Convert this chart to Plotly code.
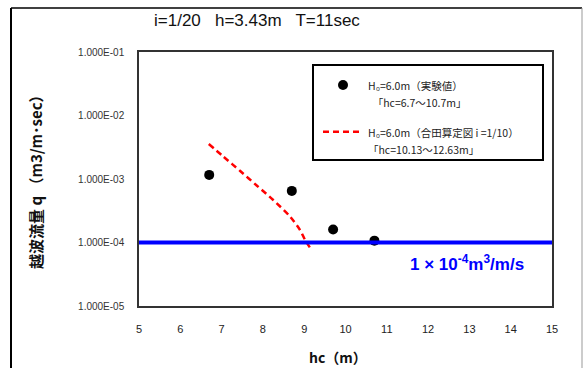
import plotly.graph_objects as go

# Data
exp_hc = [6.7, 8.7, 9.7, 10.7]
exp_q = [1.16e-3, 6.5e-4, 1.6e-4, 1.07e-4]

goda_hc = [6.69, 7.04, 7.45, 7.85, 8.25, 8.66, 8.90, 9.02, 9.18]
goda_q = [3.56e-3, 2.26e-3, 1.34e-3, 7.9e-4, 4.67e-4, 2.55e-4, 1.57e-4, 1.10e-4, 7.6e-5]

limit_hc = [5, 15]
limit_q = [1e-4, 1e-4]

x_ticks = [5, 6, 7, 8, 9, 10, 11, 12, 13, 14, 15]
y_ticks = [1e-5, 1e-4, 1e-3, 1e-2, 1e-1]
y_ticktext = ["1.000E-05", "1.000E-04", "1.000E-03", "1.000E-02", "1.000E-01"]

JP = "Noto Sans CJK JP, Liberation Sans, sans-serif"
LAT = "Liberation Sans, Arial, sans-serif"

L, R, T, B = 139, 552, 52, 306
W, H = R - L, B - T


def px(x):
    return (x - L) / W


def py(y):
    return (B - y) / H


def small(s):
    return '<span style="font-size:10.5px">' + s + '</span>'


fig = go.Figure()
fig.add_trace(go.Scatter(
    x=exp_hc, y=exp_q, mode="markers",
    marker=dict(color="black", size=10),
    legendgroup="a",
    name=small("H₀=6.0m（実験値）") + "<br>" + small("\u00a0\u00a0「hc=6.7～10.7m」"),
))
fig.add_trace(go.Scatter(
    x=goda_hc, y=goda_q, mode="lines",
    line=dict(color="#ff0000", width=2.5, dash="6px,4px", shape="spline", smoothing=0.8),
    legendgroup="b",
    name=small("H₀=6.0m（合田算定図 i =1/10）") + "<br>" + small("「hc=10.13～12.63m」"),
))
fig.add_trace(go.Scatter(
    x=limit_hc, y=limit_q, mode="lines",
    line=dict(color="#0000ff", width=4),
    showlegend=False,
))

fig.update_layout(
    width=584, height=368,
    margin=dict(l=L, r=584 - R, t=T, b=368 - B),
    paper_bgcolor="white", plot_bgcolor="white",
    font=dict(family=LAT, size=10, color="#222"),
    showlegend=True,
    legend=dict(
        x=px(318), y=py(70), xanchor="left", yanchor="top",
        borderwidth=0, bgcolor="rgba(0,0,0,0)",
        font=dict(family=JP, size=13, color="#222"),
        valign="top", traceorder="grouped", tracegroupgap=10, itemwidth=40,
    ),
    xaxis=dict(
        range=[5, 15], tickvals=x_ticks, showgrid=False, zeroline=False,
        showline=True, linecolor="#333", linewidth=1.5, mirror=True,
        ticks="", ticklabelstandoff=12,
        tickfont=dict(family=LAT, size=11, color="#222"),
    ),
    yaxis=dict(
        type="log", range=[-5, -1], tickvals=y_ticks, ticktext=y_ticktext,
        showgrid=False, zeroline=False,
        showline=True, linecolor="#333", linewidth=1.5, mirror=True,
        ticks="", ticklabelstandoff=11,
        tickfont=dict(family=LAT, size=10, color="#333"),
    ),
    annotations=[
        dict(text="i=1/20\u00a0\u00a0 h=3.43m\u00a0\u00a0 T=11sec", xref="paper", yref="paper",
             x=px(257), y=py(20), showarrow=False,
             xanchor="center", yanchor="middle",
             font=dict(family=LAT, size=17, color="#111")),
        dict(text="<b>越波流量 q （m3/m･sec）</b>", xref="paper", yref="paper",
             x=px(35), y=py(178), showarrow=False,
             textangle=-90, xanchor="center", yanchor="middle",
             font=dict(family=JP, size=15, color="#111")),
        dict(text="<b>hc（m）</b>", xref="paper", yref="paper",
             x=px(338), y=py(357), showarrow=False,
             xanchor="center", yanchor="middle",
             font=dict(family=JP, size=14, color="#111")),
        dict(text="<b>1 × 10<sup>-4</sup>m<sup>3</sup>/m/s</b>", xref="paper", yref="paper",
             x=px(467), y=py(263), showarrow=False,
             xanchor="center", yanchor="middle",
             font=dict(family=LAT, size=17, color="#0000ff")),
    ],
    shapes=[
        dict(type="rect", xref="paper", yref="paper",
             x0=px(313), x1=px(543), y0=py(65), y1=py(160),
             line=dict(color="black", width=2), fillcolor="white", layer="below"),
        dict(type="line", xref="paper", yref="paper",
             x0=px(11), x1=px(11), y0=py(8), y1=py(372),
             line=dict(color="black", width=2)),
        dict(type="line", xref="paper", yref="paper",
             x0=px(11), x1=px(582), y0=py(8), y1=py(8),
             line=dict(color="black", width=1.5)),
        dict(type="line", xref="paper", yref="paper",
             x0=px(582), x1=px(582), y0=py(8), y1=py(372),
             line=dict(color="#999", width=1)),
    ],
)

fig.write_html("out.html", config={"displayModeBar": False},
               post_script="document.body.style.margin='0';")
